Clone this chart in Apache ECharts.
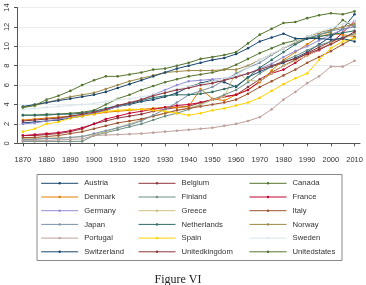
<!DOCTYPE html>
<html>
<head>
<meta charset="utf-8">
<script src="https://cdn.jsdelivr.net/npm/echarts@6/dist/echarts.min.js"></script>
<style>
  html, body { margin: 0; padding: 0; background: #fff; }
  #chart { width: 366px; height: 285px; }
</style>
</head>
<body>
<div id="chart"></div>
<script>
// years of schooling, 5-year steps
const years = [1870, 1875, 1880, 1885, 1890, 1895, 1900, 1905, 1910, 1915, 1920, 1925, 1930, 1935, 1940,
  1945, 1950, 1955, 1960, 1965, 1970, 1975, 1980, 1985, 1990, 1995, 2000, 2005, 2010];
const xTicks = [1870, 1880, 1890, 1900, 1910, 1920, 1930, 1940, 1950, 1960, 1970, 1980, 1990, 2000, 2010];

const austria = [2.1, 2.2, 2.3, 2.4, 2.6, 2.8, 3.1, 3.4, 3.8, 4.0, 4.3, 4.5, 4.8, 5.2, 5.8, 6.2, 6.5, 6.3, 5.8, 6.8, 7.4, 7.9, 8.3, 8.8, 9.4, 10.2, 11.0, 11.8, 13.3];
const belgium = [0.8, 0.8, 0.9, 1.0, 1.2, 1.5, 2.0, 2.3, 2.6, 2.8, 3.0, 3.3, 3.5, 3.7, 3.8, 4.2, 4.5, 4.8, 5.0, 5.8, 6.6, 7.3, 8.0, 8.6, 9.3, 9.9, 10.5, 10.9, 11.3];
const canada = [2.9, 2.9, 3.0, 3.0, 3.1, 3.2, 3.4, 4.0, 4.6, 5.0, 5.5, 5.9, 6.3, 6.6, 6.9, 7.1, 7.3, 7.6, 8.1, 8.7, 9.3, 9.8, 10.3, 10.6, 10.8, 11.2, 11.5, 12.7, 12.0];
const denmark = [2.4, 2.5, 2.6, 2.7, 2.8, 2.9, 3.0, 3.2, 3.3, 3.4, 3.5, 3.6, 3.7, 3.7, 3.8, 5.6, 4.6, 4.4, 5.0, 5.5, 6.3, 7.5, 8.6, 9.4, 10.2, 11.0, 11.3, 11.2, 11.0];
const finland = [0.2, 0.2, 0.2, 0.2, 0.2, 0.2, 0.8, 1.1, 1.4, 1.7, 2.0, 2.4, 2.8, 3.1, 3.5, 4.0, 4.5, 5.0, 5.5, 6.3, 7.2, 7.9, 8.5, 9.0, 9.6, 10.1, 10.5, 10.9, 11.3];
const france = [0.8, 0.9, 1.0, 1.1, 1.3, 1.6, 2.0, 2.5, 2.8, 3.1, 3.3, 3.5, 3.7, 3.9, 4.0, 4.2, 4.5, 4.8, 5.0, 5.5, 6.4, 7.2, 7.6, 8.3, 9.1, 9.6, 10.3, 11.4, 12.6];
const germany = [2.0, 2.1, 2.3, 2.5, 2.7, 2.9, 3.1, 3.4, 3.8, 4.1, 4.5, 5.0, 5.5, 6.0, 6.4, 6.5, 6.6, 6.7, 6.9, 7.2, 7.7, 8.2, 8.9, 9.5, 10.0, 10.6, 11.2, 11.7, 12.1];
const greece = [0.5, 0.5, 0.5, 0.6, 0.6, 0.7, 0.9, 1.2, 1.6, 2.0, 2.4, 2.8, 3.1, 3.4, 3.6, 4.0, 4.5, 4.8, 7.4, 6.5, 6.4, 7.2, 8.0, 8.5, 9.0, 9.7, 10.3, 10.8, 11.2];
const italy = [0.6, 0.6, 0.7, 0.8, 1.0, 1.2, 1.5, 1.8, 2.1, 2.3, 2.5, 2.8, 3.1, 3.4, 3.6, 3.8, 4.0, 4.2, 4.5, 5.1, 5.8, 6.4, 7.0, 7.6, 8.3, 8.9, 9.5, 10.2, 10.9];
const japan = [0.4, 0.4, 0.5, 0.5, 0.6, 0.7, 1.0, 1.3, 1.6, 1.9, 2.3, 2.9, 3.5, 4.2, 5.0, 5.4, 5.8, 6.5, 7.2, 7.8, 8.3, 9.1, 9.8, 10.3, 10.8, 11.2, 11.6, 11.8, 12.0];
const netherlands = [2.9, 2.9, 2.9, 3.0, 3.0, 3.1, 3.3, 3.6, 3.9, 4.1, 4.4, 4.7, 4.9, 5.0, 5.0, 5.1, 5.3, 5.6, 5.9, 6.8, 7.8, 8.6, 9.4, 10.2, 10.8, 11.0, 11.2, 11.4, 11.6];
const norway = [3.7, 3.9, 4.2, 4.5, 4.8, 5.0, 5.2, 5.6, 6.0, 6.4, 6.7, 7.0, 7.3, 7.4, 7.5, 7.5, 7.5, 7.6, 7.6, 8.0, 8.6, 9.2, 9.8, 10.4, 11.0, 11.4, 11.7, 12.0, 12.3];
const portugal = [0.3, 0.3, 0.3, 0.35, 0.4, 0.45, 0.8, 0.85, 0.9, 0.95, 1.0, 1.1, 1.2, 1.3, 1.4, 1.5, 1.6, 1.8, 2.0, 2.3, 2.7, 3.5, 4.5, 5.3, 6.2, 6.9, 7.9, 7.9, 8.5];
const spain = [1.2, 1.5, 2.0, 2.2, 2.6, 2.8, 3.0, 3.3, 3.4, 3.5, 3.5, 3.4, 3.3, 3.1, 2.9, 3.1, 3.4, 3.6, 3.9, 4.2, 4.7, 5.4, 6.1, 6.7, 7.2, 8.6, 9.8, 10.5, 10.8];
const sweden = [3.5, 3.6, 3.7, 3.8, 3.9, 4.0, 4.1, 4.3, 4.5, 4.6, 4.8, 5.0, 5.3, 5.6, 5.8, 6.1, 6.4, 6.7, 7.0, 7.8, 8.6, 9.2, 9.8, 10.5, 11.0, 11.5, 11.9, 12.3, 12.6];
const switzerland = [3.8, 4.0, 4.2, 4.4, 4.6, 4.8, 5.0, 5.3, 5.7, 6.1, 6.5, 6.9, 7.3, 7.7, 8.0, 8.3, 8.6, 8.8, 9.2, 9.8, 10.5, 10.9, 11.3, 10.8, 10.8, 10.8, 10.7, 10.8, 10.5];
const unitedkingdom = [2.3, 2.4, 2.5, 2.6, 2.8, 3.0, 3.2, 3.5, 3.9, 4.2, 4.5, 4.9, 5.2, 5.5, 5.7, 6.0, 6.2, 6.5, 6.8, 7.2, 7.6, 8.0, 8.4, 8.7, 9.2, 9.7, 10.2, 10.8, 11.5];
const unitedstates = [3.7, 3.9, 4.5, 4.9, 5.4, 6.0, 6.5, 6.9, 6.9, 7.1, 7.3, 7.6, 7.7, 8.0, 8.3, 8.7, 8.9, 9.1, 9.4, 10.3, 11.2, 11.8, 12.4, 12.5, 12.9, 13.2, 13.4, 13.3, 13.6];

const countries = ['Austria', 'Belgium', 'Canada', 'Denmark', 'Finland', 'France', 'Germany', 'Greece', 'Italy',
  'Japan', 'Netherlands', 'Norway', 'Portugal', 'Spain', 'Sweden', 'Switzerland', 'Unitedkingdom', 'Unitedstates'];
const values = [austria, belgium, canada, denmark, finland, france, germany, greece, italy,
  japan, netherlands, norway, portugal, spain, sweden, switzerland, unitedkingdom, unitedstates];
// stata s2color order, wraps after 15
const colors = ['#1a476f', '#90353b', '#55752f', '#e37e00', '#6e8e84', '#c10534', '#938dd2', '#cac27e', '#a0522d',
  '#7b92a8', '#2d6d66', '#9c8847', '#bfa19c', '#ffd200', '#d9e6eb', '#1a476f', '#90353b', '#55752f'];

const chart = echarts.init(document.getElementById('chart'));

const series = countries.map((name, i) => ({
  name: name,
  type: 'line',
  data: years.map((y, j) => [y, values[i][j]]),
  symbol: 'circle',
  symbolSize: 2.6,
  itemStyle: { color: colors[i] },
  lineStyle: { color: colors[i], width: 1 },
  emphasis: { disabled: true },
  animation: false
}));

// legend in three columns, row order like the original
const legendCol = (names, left) => ({
  orient: 'vertical',
  left: left,
  top: 178.3,
  padding: 0,
  data: names,
  itemWidth: 37,
  itemHeight: 3,
  itemGap: 3.7,
  lineStyle: { width: 1 },
  textStyle: { fontFamily: 'Liberation Sans', fontSize: 7.7, color: '#333', lineHeight: 10, padding: [0, 0, 0, 1] },
  selectedMode: false
});

chart.setOption({
  backgroundColor: '#fff',
  animation: false,
  color: colors,
  grid: { left: 17, right: 6, top: 7.5, bottom: 141.7 },
  xAxis: {
    type: 'value',
    min: 1867.5,
    max: 2012.3,
    offset: 6.7,
    axisLine: { show: true, lineStyle: { color: '#555', width: 1 } },
    axisTick: { show: true, length: 3, lineStyle: { color: '#555' }, customValues: xTicks },
    axisLabel: { color: '#333', fontFamily: 'Liberation Sans', fontSize: 7.5, margin: 6, customValues: xTicks, formatter: v => String(v) },
    splitLine: { show: false }
  },
  yAxis: {
    type: 'value',
    min: 0,
    max: 14,
    interval: 2,
    axisLine: { show: true, lineStyle: { color: '#555', width: 1 } },
    axisTick: { show: true, length: 3, lineStyle: { color: '#555' } },
    axisLabel: { color: '#333', fontFamily: 'Liberation Sans', fontSize: 7.5, rotate: 90, margin: 6 },
    splitLine: { show: true, lineStyle: { color: '#e8edf0', width: 1 } }
  },
  legend: [
    legendCol(['Austria', 'Denmark', 'Germany', 'Japan', 'Portugal', 'Switzerland'], 40.7),
    legendCol(['Belgium', 'Finland', 'Greece', 'Netherlands', 'Spain', 'Unitedkingdom'], 138),
    legendCol(['Canada', 'France', 'Italy', 'Norway', 'Sweden', 'Unitedstates'], 249)
  ],
  graphic: [
    {
      type: 'rect', z: -1, silent: true,
      shape: { x: 37, y: 174.5, width: 305, height: 86 },
      style: { fill: '#fff', stroke: '#8a8a8a', lineWidth: 1 }
    },
    {
      type: 'text', silent: true, x: 178, y: 280,
      style: { text: 'Figure VI', fill: '#222', font: '12px "Liberation Serif"', textAlign: 'center', textVerticalAlign: 'middle' }
    }
  ],
  series: series
});
</script>
</body>
</html>
